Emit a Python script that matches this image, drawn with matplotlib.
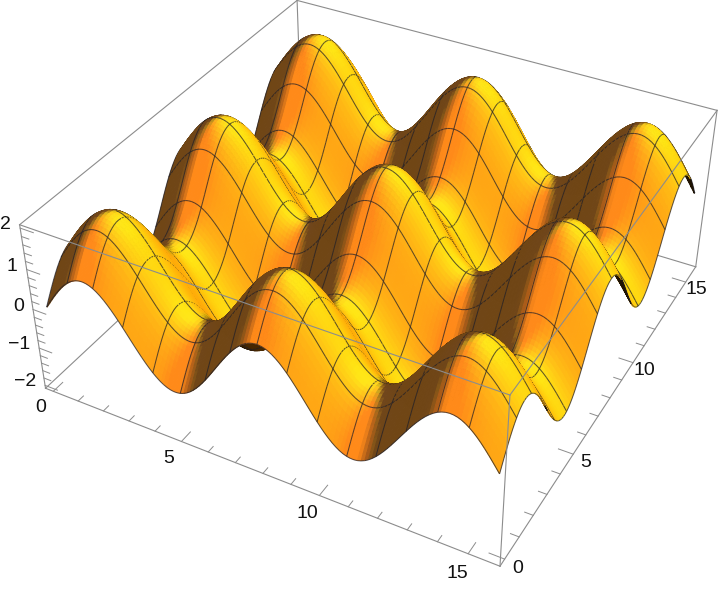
import numpy as np
import matplotlib
matplotlib.use("Agg")
import matplotlib.pyplot as plt
from mpl_toolkits.mplot3d import proj3d
from mpl_toolkits.mplot3d.art3d import Poly3DCollection

plt.rcParams['font.family'] = ['Liberation Sans', 'DejaVu Sans']

half_wave = [0, .122, .243, .360, .471, .576, .672, .757, .831, .893, .941, .976, .995, 1.0, .989, .964, .924,
             .870, .803, .724, .634, .535, .428, .314, .195, .074, -.049, -.171, -.290, -.405, -.514, -.615, -.707,
             -.788, -.858, -.914, -.957, -.985, -.999, -.997, -.981, -.950, -.904, -.845, -.773, -.689, -.596,
             -.493, -.383, -.267, -.147, -.025, .098, .219, .337, .450, .556, .653, .741, .817, .882, .933, .970, .992, 1.0]
profile_x = half_wave + half_wave[-2::-1]
profile_y = list(profile_x)
x_end = 15.708
y_end = 15.708
pad = 0.314
x_low, x_high = -pad, x_end+pad
y_low, y_high = -pad, y_end+pad
z_low, z_high = -2.08, 2.08
x_ticks = [0, 5, 10, 15]
y_ticks = [0, 5, 10, 15]
z_ticks = [-2, -1, 0, 1, 2]

px = np.array(profile_x); py = np.array(profile_y)
n = len(px)
xs = np.linspace(0, x_end, n); ys = np.linspace(0, y_end, n)
X, Y = np.meshgrid(xs, ys, indexing='ij')
Z = px[:, None] + py[None, :]

fig = plt.figure(figsize=(7.2, 5.9), dpi=100)
ax = fig.add_axes([0, 0, 1, 1], projection='3d', computed_zorder=False)
ax.set_box_aspect((1, 1, 0.4))
ax.view_init(elev=36.24, azim=-61.56)
ax.set_proj_type('persp', focal_length=0.4388)
ax.set_xlim(x_low, x_high); ax.set_ylim(y_low, y_high); ax.set_zlim(z_low, z_high)
ax.set_axis_off()
ax.set_position([22.8/720, -20.4/590, 706.7/720, 706.7/590])

# camera in box units
C = np.array([1.3, -2.4, 2.0])
sc = np.array([1/(x_high-x_low), 1/(y_high-y_low), 0.4/(z_high-z_low)])
cen = np.array([(x_low+x_high)/2, (y_low+y_high)/2, (z_low+z_high)/2])
w = C/np.linalg.norm(C)
u = np.cross([0, 0, 1.0], w); u /= np.linalg.norm(u)
v = np.cross(w, u)
def light_dir(d):
    d = np.array(d, float); d /= np.linalg.norm(d)
    return d[0]*u + d[1]*v + d[2]*w
red_light = light_dir((1.5, -0.5, 2.0))
green_light = light_dir((1.5, 1.5, 2.0))
blue_light = light_dir((-0.5, 1.5, 2.0))

polys, fcs, ecs = [], [], []
for i in range(n-1):
    for j in range(n-1):
        q = np.array([[X[i,j],Y[i,j],Z[i,j]],[X[i+1,j],Y[i+1,j],Z[i+1,j]],[X[i+1,j+1],Y[i+1,j+1],Z[i+1,j+1]],[X[i,j+1],Y[i,j+1],Z[i,j+1]]])
        qs = (q-cen)*sc
        nrm = np.cross(qs[2]-qs[0], qs[3]-qs[1]); nrm /= np.linalg.norm(nrm)
        vd = C-qs.mean(axis=0); vd /= np.linalg.norm(vd)
        ndark = 1.0
        if nrm@vd < 0:
            nrm = -nrm
            ndark = 0.28
        nr = max(0, nrm@red_light); ng = max(0, nrm@green_light); nb = max(0, nrm@blue_light)
        r = min(1, 0.44 + 1.6*nr)
        g = 0.30 + 0.62*ng**1.5
        g = max(min(g, r*(0.40 + 0.50*r)), 0.54*r)
        b = 0.02 + 0.10*nb
        col = np.array([r, g, b])*ndark
        polys.append(q); fcs.append((*col, 1)); ecs.append((*col, 1))

# mesh lines share the surface's depth sort
shift = (C/np.linalg.norm(C))/sc*0.006
mesh = (0.12, 0.12, 0.16, 0.72)
for k in range(0, n, 8):
    for m in range(n-1):
        for a, b_ in (((k, m), (k, m+1)), ((m, k), (m+1, k))):
            p0 = np.array([X[a], Y[a], Z[a]])+shift
            p1 = np.array([X[b_], Y[b_], Z[b_]])+shift
            polys.append(np.array([p0, p1, p1, p0])); fcs.append((0, 0, 0, 0)); ecs.append(mesh)

pc = Poly3DCollection(polys, facecolors=fcs, edgecolors=ecs, linewidths=0.75, zsort='average', zorder=2)
ax.add_collection3d(pc)

box = '#8c8c8c'
def seg(a, b_, z=1, lw=0.8):
    ax.plot([a[0], b_[0]], [a[1], b_[1]], [a[2], b_[2]], color=box, lw=lw, zorder=z, clip_on=False)
x0, x1, y0, y1, z0, z1 = x_low, x_high, y_low, y_high, z_low, z_high
for a, b_ in [((x0,y0,z0),(x1,y0,z0)),((x1,y0,z0),(x1,y1,z0)),((x1,y1,z0),(x0,y1,z0)),((x0,y1,z0),(x0,y0,z0)),
              ((x0,y1,z1),(x1,y1,z1)),((x0,y1,z1),(x0,y0,z1)),((x0,y1,z0),(x0,y1,z1))]:
    seg(a, b_, 1)
for a, b_ in [((x0,y0,z1),(x1,y0,z1)),((x1,y0,z1),(x1,y1,z1)),((x0,y0,z0),(x0,y0,z1)),((x1,y0,z0),(x1,y0,z1)),((x1,y1,z0),(x1,y1,z1))]:
    seg(a, b_, 3)

for t in range(0, 16):
    ln = 0.5 if t % 5 == 0 else 0.28
    seg((t, y0, z0), (t, y0+ln, z0), 1, 0.7)
    seg((x1, t, z0), (x1-ln, t, z0), 1, 0.7)
for t in np.arange(-2, 2.01, 0.2):
    ln = 0.5 if abs(t-round(t)) < 1e-6 else 0.28
    seg((x0, y0, t), (x0+ln, y0, t), 3, 0.7)

M = ax.get_proj()
def label(xd, yd, zd, s, ha):
    xp, yp, _ = proj3d.proj_transform(xd, yd, zd, M)
    ax.text2D(xp, yp, s, transform=ax.transData, fontsize=14, ha=ha, va='center', color='#111111', zorder=5)

for t in x_ticks:
    label(t, y0-0.7, z0-0.1, str(t), 'center')
for t in y_ticks:
    label(x1+0.42, t, z0-0.1, str(t), 'center')
for t in z_ticks:
    label(x0-0.36, y0, t, str(t).replace('-', '\u2212'), 'right')

fig.savefig('out.png', dpi=100)
